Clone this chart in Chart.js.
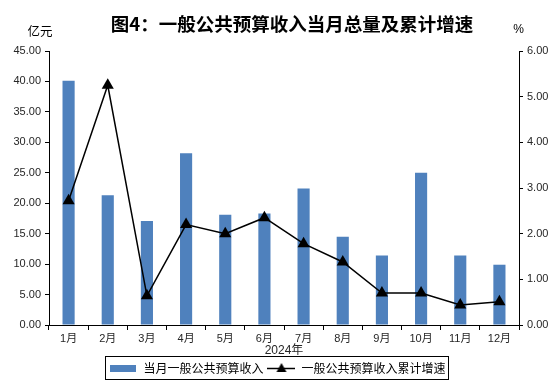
<!DOCTYPE html>
<html>
<head>
<meta charset="utf-8">
<script src="https://cdn.jsdelivr.net/npm/chart.js@4/dist/chart.umd.min.js"></script>
<style>
html,body{margin:0;padding:0;background:#fff;}
#wrap{width:555px;height:388px;position:relative;}
</style>
</head>
<body>
<div id="wrap"><canvas id="c" width="555" height="388"></canvas></div>
<script>
const titleText = '图4：一般公共预算收入当月总量及累计增速';
const categories = ['1月','2月','3月','4月','5月','6月','7月','8月','9月','10月','11月','12月'];
const xAxisTitle = '2024年';
const barLabel = '当月一般公共预算收入';
const lineLabel = '一般公共预算收入累计增速';
const barValues = [40.1, 21.3, 17.1, 28.2, 18.1, 18.3, 22.4, 14.5, 11.4, 25.0, 11.4, 9.9];
const lineValues = [2.72, 5.25, 0.64, 2.20, 2.00, 2.35, 1.78, 1.38, 0.70, 0.70, 0.44, 0.51];
const leftUnit = '亿元';
const rightUnit = '%';
const leftMax = 45, leftStep = 5;
const rightMax = 6, rightStep = 1;

const BLUE = '#4F81BD';
const TXT = '#262626';
const FONT = "'Liberation Sans', 'Noto Sans CJK SC', sans-serif";

function barIcon(){
  const c = document.createElement('canvas'); c.width = 26; c.height = 7;
  const x = c.getContext('2d'); x.fillStyle = BLUE; x.fillRect(0,0,26,7); return c;
}
function lineIcon(){
  const c = document.createElement('canvas'); c.width = 28; c.height = 12;
  const x = c.getContext('2d');
  x.strokeStyle = '#000'; x.lineWidth = 1.5;
  x.beginPath(); x.moveTo(0,6.5); x.lineTo(28,6.5); x.stroke();
  x.fillStyle = '#000'; x.beginPath(); x.moveTo(14,1); x.lineTo(19,10); x.lineTo(9,10); x.closePath(); x.fill();
  return c;
}
const icons = [barIcon(), lineIcon()];

const extras = {
  id: 'extras',
  afterDraw(chart){
    const ctx = chart.ctx;
    ctx.save();
    ctx.fillStyle = '#000';
    ctx.textAlign = 'center'; ctx.textBaseline = 'middle';
    ctx.font = "bold 18.5px 'Noto Sans CJK SC', sans-serif";
    ctx.fillText(titleText, 292, 23.5);
    ctx.font = "12.5px 'Noto Sans CJK SC', sans-serif";
    ctx.fillText(leftUnit, 40, 31);
    ctx.font = "12px " + FONT;
    ctx.fillText(rightUnit, 518.5, 30);
    // legend frame
    const hb = chart.legend.legendHitBoxes;
    if (hb && hb.length){
      let l = Infinity, r = -Infinity, cy = 0;
      hb.forEach(b => { l = Math.min(l, b.left); r = Math.max(r, b.left + b.width); cy = b.top + b.height/2; });
      ctx.strokeStyle = '#000'; ctx.lineWidth = 1;
      ctx.strokeRect(Math.round(l) - 3.5, Math.round(cy) - 11.5, Math.round(r - l) + 7, 23);
    }
    ctx.restore();
  }
};

new Chart(document.getElementById('c'), {
  type: 'bar',
  data: {
    labels: categories,
    datasets: [
      { type: 'bar', label: barLabel, data: barValues, backgroundColor: BLUE, borderWidth: 0,
        yAxisID: 'y', order: 1, barPercentage: 0.31, categoryPercentage: 1.0 },
      { type: 'line', label: lineLabel, data: lineValues, borderColor: '#000', backgroundColor: '#000',
        borderWidth: 1.5, pointStyle: 'triangle', pointRadius: 7, pointBorderWidth: 0,
        pointBackgroundColor: '#000', yAxisID: 'y1', order: 0, tension: 0 }
    ]
  },
  options: {
    responsive: false,
    animation: false,
    devicePixelRatio: 1,
    layout: { padding: { left: 0, right: 0, top: 51, bottom: 4 } },
    plugins: {
      tooltip: { enabled: false },
      title: { display: false },
      legend: {
        position: 'bottom',
        labels: {
          usePointStyle: true, pointStyleWidth: 28, padding: 4, color: '#000',
          font: { family: "'Noto Sans CJK SC', sans-serif", size: 12 },
          sort: (a, b) => a.datasetIndex - b.datasetIndex,
          generateLabels(chart){
            const items = Chart.defaults.plugins.legend.labels.generateLabels(chart);
            items.forEach(it => { it.pointStyle = icons[it.datasetIndex]; it.lineWidth = 0; it.strokeStyle = 'rgba(0,0,0,0)'; });
            return items;
          }
        }
      }
    },
    scales: {
      x: {
        offset: true,
        grid: { display: true, offset: true, drawOnChartArea: false, drawTicks: true, tickLength: 5, color: '#000', lineWidth: 1 },
        border: { display: true, color: '#000', width: 1 },
        ticks: { color: TXT, font: { family: FONT, size: 11 }, padding: 2, maxRotation: 0, autoSkip: false },
        title: { display: true, text: xAxisTitle, color: TXT, font: { family: FONT, size: 12 }, padding: { top: 0, bottom: 0 } },
        afterFit(s){ s.height = 33; }
      },
      y: {
        position: 'left', min: 0, max: leftMax,
        grid: { display: true, drawOnChartArea: false, drawTicks: true, tickLength: 4, color: '#000' },
        border: { display: true, color: '#000', width: 1 },
        ticks: { stepSize: leftStep, color: TXT, font: { family: FONT, size: 11 }, padding: 4,
          callback: v => Number(v).toFixed(2) },
        afterFit(s){ s.width = 49; }
      },
      y1: {
        position: 'right', min: 0, max: rightMax,
        grid: { display: true, drawOnChartArea: false, drawTicks: true, tickLength: 4, color: '#000' },
        border: { display: true, color: '#000', width: 1 },
        ticks: { stepSize: rightStep, color: TXT, font: { family: FONT, size: 11 }, padding: 4,
          callback: v => Number(v).toFixed(2) },
        afterFit(s){ s.width = 36; }
      }
    }
  },
  plugins: [extras]
});
</script>
</body>
</html>
